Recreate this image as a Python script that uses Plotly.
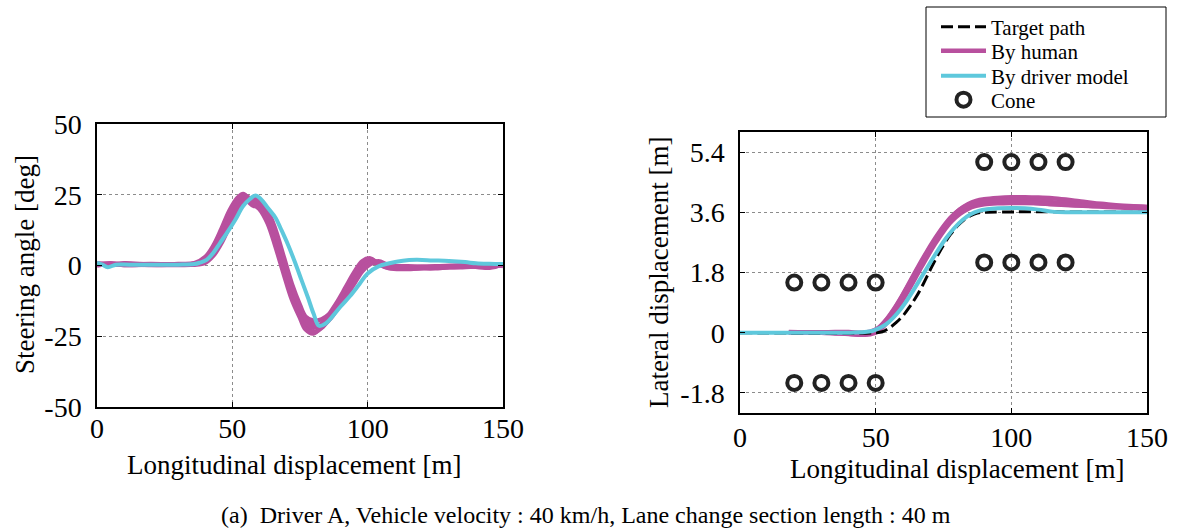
import plotly.graph_objects as go

W, H = 1177, 531

# ---------------- data: steering angle (left) ----------------
steer_model_x = [0, 2, 4, 7, 12, 20, 30, 36, 38, 40.5, 43, 45.5, 48, 51, 54, 56.5, 58.5, 60.5, 63, 66,
                 68, 70.5, 73, 75.5, 78, 80, 82, 84.5, 87, 90, 93.5, 97, 100, 104, 108, 113, 118, 124,
                 130, 136, 140, 145, 150]
steer_model_y = [1.0, 0.3, -0.6, 0.3, 0.3, 0.3, 0.3, 0.5, 1.0, 2.0, 4.5, 8.0, 11.5, 16.0, 21.0, 23.5,
                 24.7, 23.5, 20.5, 16.8, 12.8, 7.5, 1.5, -5.0, -11.5, -17.0, -21.3, -20.5, -18.0, -14.5,
                 -10.8, -6.5, -2.8, -0.3, 0.8, 1.7, 2.0, 1.8, 1.6, 1.2, 0.8, 0.6, 0.5]

steer_human_x = [0, 5, 10, 20, 30, 36, 40, 43, 46, 49, 52, 54, 56, 58, 60, 63, 66, 69, 72, 75, 77, 80,
                 83, 86, 89, 92, 95, 98, 101, 104, 108, 115, 125, 135, 145, 150]
steer_human_1 = [0.5, 0.2, 0.8, 0.3, 0.2, 0.5, 2.5, 6.5, 12.0, 18.0, 23.5, 25.0, 24.0, 22.0, 20.5, 16.0,
                 8.0, -1.0, -10.0, -17.0, -21.0, -23.5, -22.0, -18.5, -14.5, -10.0, -5.0, -0.5, 1.5,
                 0.5, -0.8, -0.5, -0.3, 0.0, -0.5, 0.3]
steer_human_2 = [0.0, 0.6, 0.2, 0.4, 0.3, 0.4, 1.5, 4.5, 9.5, 15.5, 21.0, 23.0, 23.5, 24.0, 23.0, 19.5,
                 12.5, 3.0, -6.5, -14.0, -18.0, -19.5, -19.0, -17.0, -13.5, -9.0, -4.5, -1.0, 1.0,
                 0.8, -0.5, -1.0, -0.6, -0.2, 0.2, 0.0]
steer_human_3 = [0.8, 0.3, 0.5, 0.2, 0.4, 0.6, 2.0, 5.5, 11.0, 17.0, 22.0, 24.5, 22.5, 21.0, 21.5, 18.0,
                 10.5, 1.0, -8.5, -16.0, -20.0, -22.0, -20.5, -17.5, -13.0, -8.5, -3.5, 0.5, 2.0,
                 1.0, -0.5, -0.8, -1.0, 0.0, -0.8, 0.5]
steer_human_4 = [0.3, 0.8, 0.4, 0.5, 0.3, 0.3, 1.0, 3.5, 8.0, 14.0, 20.0, 22.5, 23.5, 23.0, 22.0, 18.5,
                 11.0, 2.0, -7.5, -15.0, -19.0, -21.0, -21.5, -19.0, -15.0, -11.0, -6.5, -2.0, 0.5,
                 1.5, 0.0, -0.3, -0.8, -0.4, 0.4, -0.2]
steer_human_5 = [0.5, 0.4, 0.2, 0.3, 0.5, 0.8, 3.0, 7.0, 13.0, 19.5, 24.0, 25.3, 23.5, 21.5, 20.0, 15.0,
                 6.5, -3.0, -12.0, -18.5, -22.5, -24.0, -21.5, -17.0, -12.5, -7.5, -2.5, 1.5, 2.5,
                 0.5, -1.0, -1.2, -0.5, -0.6, 0.0, 0.3]

# ---------------- data: lateral displacement (right) ----------------
target_x = [0, 50, 52.5, 55, 57.5, 60, 62.5, 65, 67.5, 70, 72.5, 75, 77.5, 80, 82.5, 85, 87.5, 90, 150]
target_y = [0, 0, 0.03, 0.14, 0.30, 0.50, 0.77, 1.08, 1.45, 1.86, 2.26, 2.62, 2.93, 3.18, 3.37, 3.50,
            3.58, 3.60, 3.60]

lat_model_x = [0, 20, 40, 46, 49, 52, 55, 58, 61, 64, 67, 70, 73, 76, 79, 82, 85, 88, 91, 95, 100, 105,
               110, 115, 120, 130, 140, 150]
lat_model_y = [0, 0, 0, 0.02, 0.06, 0.16, 0.33, 0.58, 0.90, 1.28, 1.68, 2.08, 2.47, 2.83, 3.13, 3.37,
               3.54, 3.64, 3.69, 3.72, 3.73, 3.72, 3.68, 3.62, 3.60, 3.60, 3.60, 3.60]

lat_human_x = [18, 25, 30, 35, 40, 45, 48, 51, 54, 57, 60, 63, 66, 69, 72, 75, 78, 81, 84, 87, 90, 95,
               100, 105, 110, 115, 120, 125, 130, 135, 140, 145, 150]
lat_human_1 = [0, 0, 0, -0.02, -0.04, -0.05, -0.02, 0.12, 0.38, 0.72, 1.12, 1.55, 1.98, 2.40, 2.79, 3.15,
               3.45, 3.68, 3.84, 3.94, 3.99, 4.03, 4.05, 4.05, 4.04, 4.02, 3.98, 3.93, 3.88, 3.84, 3.80,
               3.78, 3.76]
lat_human_2 = [0.02, 0.01, 0, -0.01, -0.03, -0.06, -0.05, 0.05, 0.28, 0.60, 0.98, 1.40, 1.84, 2.27, 2.67,
               3.03, 3.33, 3.55, 3.70, 3.79, 3.84, 3.87, 3.88, 3.88, 3.87, 3.85, 3.83, 3.80, 3.78, 3.76,
               3.74, 3.72, 3.71]
lat_human_3 = [0, 0, 0.01, 0, -0.02, -0.04, -0.01, 0.10, 0.33, 0.66, 1.05, 1.48, 1.92, 2.35, 2.75, 3.10,
               3.40, 3.62, 3.78, 3.88, 3.93, 3.96, 3.97, 3.96, 3.93, 3.90, 3.87, 3.84, 3.81, 3.79, 3.77,
               3.75, 3.74]
lat_human_4 = [0, 0.01, 0.01, 0.02, 0.02, 0.0, 0.03, 0.15, 0.40, 0.74, 1.14, 1.58, 2.02, 2.44, 2.83, 3.18,
               3.47, 3.68, 3.82, 3.90, 3.94, 3.96, 3.94, 3.91, 3.87, 3.84, 3.82, 3.80, 3.79, 3.78, 3.77,
               3.77, 3.76]

cone_x = [20, 30, 40, 50, 20, 30, 40, 50, 90, 100, 110, 120, 90, 100, 110, 120]
cone_y = [1.5, 1.5, 1.5, 1.5, -1.5, -1.5, -1.5, -1.5, 5.1, 5.1, 5.1, 5.1, 2.1, 2.1, 2.1, 2.1]

steer_ticks = [-50, -25, 0, 25, 50]
steer_tick_text = ["-50", "-25", "0", "25", "50"]
lat_ticks = [-1.8, 0, 1.8, 3.6, 5.4]
lat_tick_text = ["-1.8", "0", "1.8", "3.6", "5.4"]
x_ticks = [0, 50, 100, 150]

# ---------------- styling ----------------
HUMAN = "#b8509e"
MODEL = "#5ec8dc"
FONT = "Liberation Serif"


def px_x(p):
    return p / W


def px_y(p):
    return 1 - p / H


fig = go.Figure()

for yv in [steer_human_1, steer_human_2, steer_human_3, steer_human_4, steer_human_5]:
    fig.add_trace(go.Scatter(x=steer_human_x, y=yv, mode="lines", line=dict(color=HUMAN, width=4.5, shape="spline"),
                             xaxis="x", yaxis="y", showlegend=False))
fig.add_trace(go.Scatter(x=steer_model_x, y=steer_model_y, mode="lines",
                         line=dict(color=MODEL, width=4, shape="spline"),
                         xaxis="x", yaxis="y", showlegend=False))

for i, yv in enumerate([lat_human_1, lat_human_2, lat_human_3, lat_human_4]):
    fig.add_trace(go.Scatter(x=lat_human_x, y=yv, mode="lines", line=dict(color=HUMAN, width=4.5, shape="spline"),
                             xaxis="x2", yaxis="y2", name="By human", showlegend=(i == 0),
                             legend="legend2"))
fig.add_trace(go.Scatter(x=target_x, y=target_y, mode="lines",
                         line=dict(color="black", width=3, dash="12px,5px", shape="spline"),
                         xaxis="x2", yaxis="y2", name="Target path", legend="legend"))
fig.add_trace(go.Scatter(x=lat_model_x, y=lat_model_y, mode="lines",
                         line=dict(color=MODEL, width=4, shape="spline"),
                         xaxis="x2", yaxis="y2", name="By driver model", legend="legend3"))
fig.add_trace(go.Scatter(x=cone_x, y=cone_y, mode="markers",
                         marker=dict(symbol="circle-open", size=14, color="#222222", line=dict(width=4)),
                         xaxis="x2", yaxis="y2", name="Cone", legend="legend4"))

axis_common = dict(showline=True, linecolor="black", linewidth=1.5, mirror="ticks", ticks="inside",
                   ticklen=5, tickcolor="black", tickwidth=1, showgrid=True, gridcolor="#8c8c8c",
                   griddash="dot", gridwidth=1, zeroline=False, automargin=False,
                   tickfont=dict(family=FONT, size=28, color="black"))


def legend_at(center_y):
    return dict(x=px_x(936), y=px_y(center_y), xanchor="left", yanchor="middle", bgcolor="rgba(0,0,0,0)",
                borderwidth=0, font=dict(family=FONT, size=21, color="black"), itemwidth=45)


def label(text, cx, cy, size=27, angle=0):
    return dict(text=text, x=px_x(cx), y=px_y(cy), xref="paper", yref="paper", xanchor="center",
                yanchor="middle", textangle=angle, showarrow=False,
                font=dict(family=FONT, size=size, color="black"))


fig.update_layout(
    template="none",
    width=W, height=H,
    margin=dict(l=0, r=0, t=0, b=0, pad=0),
    paper_bgcolor="white", plot_bgcolor="white",
    xaxis=dict(domain=[px_x(97), px_x(503)], range=[0, 150], tickvals=x_ticks, anchor="y",
               ticklabelstandoff=-4, **axis_common),
    yaxis=dict(domain=[px_y(407), px_y(124)], range=[-50, 50], tickvals=steer_ticks,
               ticktext=steer_tick_text, anchor="x", ticklabelstandoff=8, **axis_common),
    xaxis2=dict(domain=[px_x(740), px_x(1147)], range=[0, 150], tickvals=x_ticks, anchor="y2",
                ticklabelstandoff=-1, **axis_common),
    yaxis2=dict(domain=[px_y(413), px_y(132)], range=[-2.4, 6.0], tickvals=lat_ticks,
                ticktext=lat_tick_text, anchor="x2", ticklabelstandoff=8, **axis_common),
    showlegend=True,
    legend=legend_at(27),
    legend2=legend_at(51),
    legend3=legend_at(76),
    legend4=legend_at(100),
    shapes=[dict(type="rect", xref="paper", yref="paper", x0=px_x(926), x1=px_x(1166), y0=px_y(117),
                 y1=px_y(7), line=dict(color="black", width=1))],
    annotations=[
        label("Steering angle [deg]", 25, 265, angle=-90),
        label("Longitudinal displacement [m]", 294, 465),
        label("Lateral displacement [m]", 659, 273, angle=-90),
        label("Longitudinal displacement [m]", 957, 469),
        label("(a)  Driver A, Vehicle velocity : 40 km/h, Lane change section length : 40 m", 586, 515,
              size=24),
    ],
)

fig.write_html("out.html", config={"displayModeBar": False},
               post_script="document.body.style.margin='0px';")
